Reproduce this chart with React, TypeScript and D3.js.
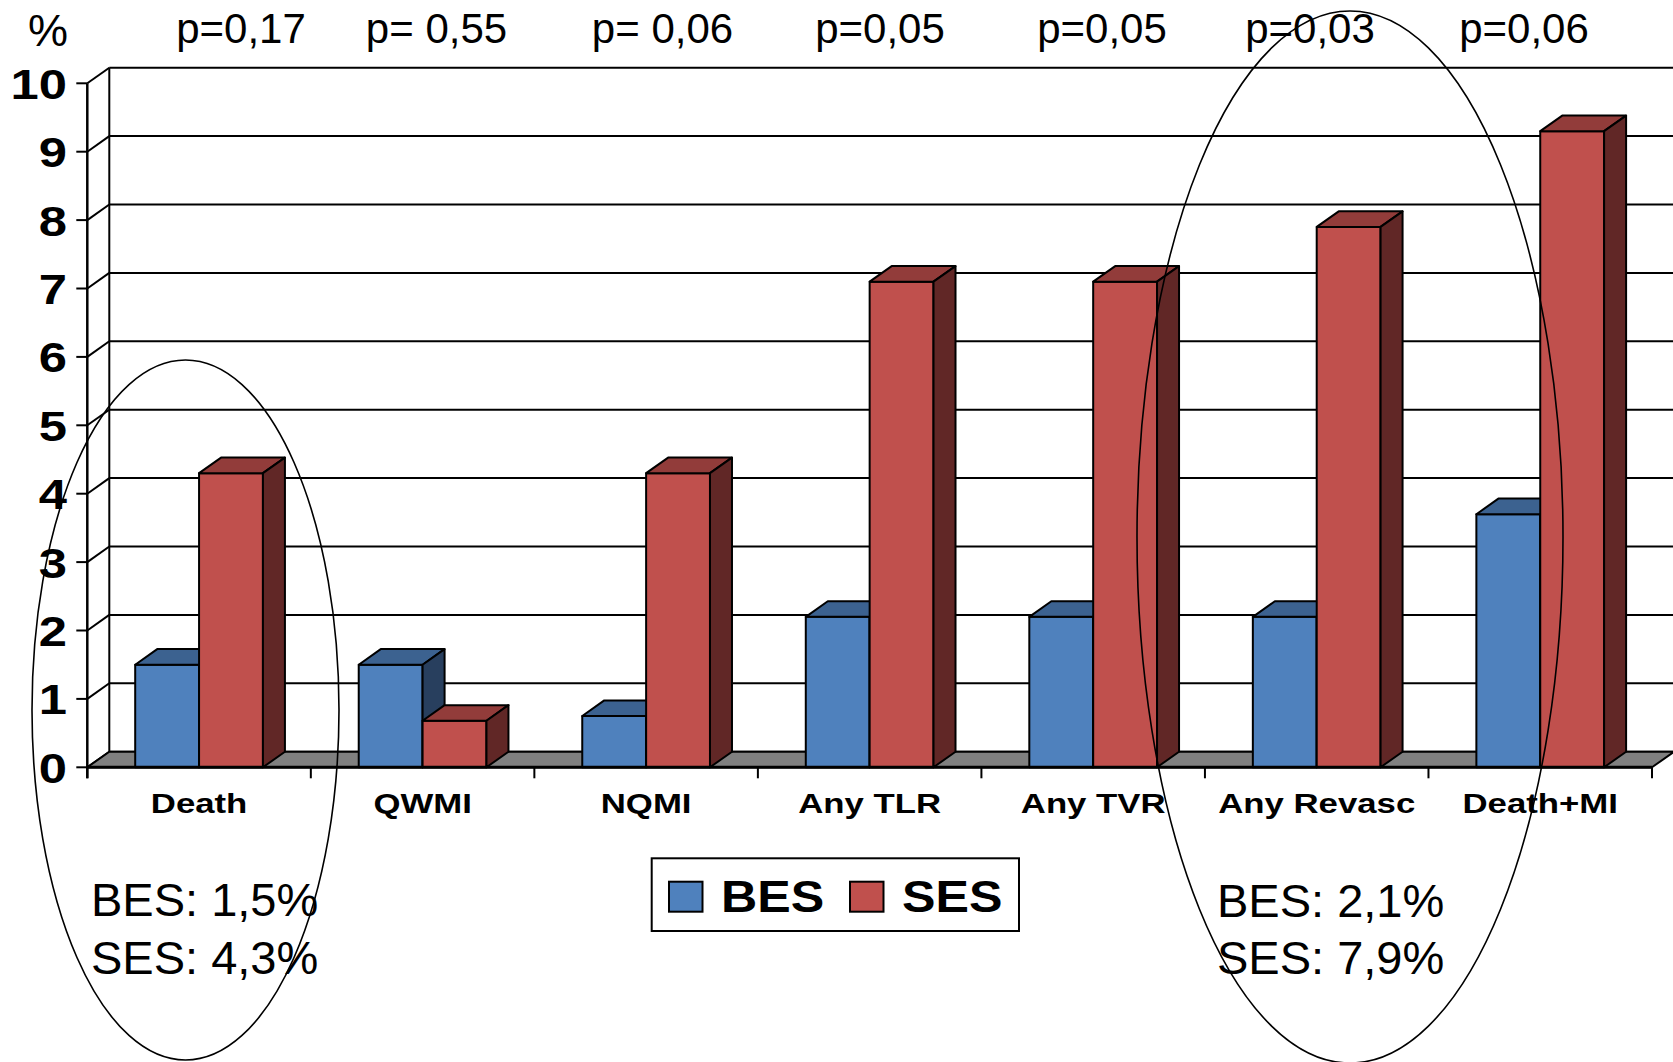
import React, { useEffect } from "react";
import * as d3 from "d3";

// ---- data ----
const categories = ["Death", "QWMI", "NQMI", "Any TLR", "Any TVR", "Any Revasc", "Death+MI"];
const besValues = [1.5, 1.5, 0.75, 2.2, 2.2, 2.2, 3.7];
const sesValues = [4.3, 0.68, 4.3, 7.1, 7.1, 7.9, 9.3];
const seriesNames = ["BES", "SES"];
const yTickValues = [0, 1, 2, 3, 4, 5, 6, 7, 8, 9, 10];
const pValues = ["p=0,17", "p= 0,55", "p= 0,06", "p=0,05", "p=0,05", "p=0,03", "p=0,06"];
const leftNote = ["BES: 1,5%", "SES: 4,3%"];
const rightNote = ["BES: 2,1%", "SES: 7,9%"];

// ---- layout ----
const W = 1673;
const H = 1062;
const X0 = 87.3;
const X1 = 1652;
const Y0 = 767.3;
const Y10 = 83.3;
const DX = 22;
const DY = -15.6;
const pLabelX = [241, 436.5, 662.5, 880, 1102, 1310, 1524];

const colors = {
  BES: { front: "#4F81BD", top: "#3C6290", side: "#283F5E" },
  SES: { front: "#C0504D", top: "#923C3A", side: "#612726" },
};

const BOLD = "'Liberation Sans', Arial, sans-serif";

export default function App() {
  useEffect(() => {
    document.body.style.margin = "0";
  }, []);

  const x = d3.scaleBand<string>().domain(categories).range([X0, X1]).padding(0);
  const y = d3.scaleLinear().domain([0, 10]).range([Y0, Y10]);
  const barW = x.bandwidth() / 3.5;
  const inner = d3.scaleBand<string>().domain(seriesNames).range([0, barW * 2]).padding(0);

  const bars: any[] = [];
  categories.forEach((c, i) => {
    const cx = (x(c) as number) + x.bandwidth() / 2;
    [besValues[i], sesValues[i]].forEach((v, si) => {
      const s = seriesNames[si];
      const bx0 = cx - barW + (inner(s) as number);
      const bx1 = bx0 + barW;
      const yt = y(v);
      const col = (colors as any)[s];
      bars.push(
        <g key={c + s} stroke="#000" strokeWidth={2} strokeLinejoin="round">
          <rect x={bx0} y={yt} width={barW} height={Y0 - yt} fill={col.front} />
          <path
            d={`M${bx0},${yt}L${bx1},${yt}L${bx1 + DX},${yt + DY}L${bx0 + DX},${yt + DY}Z`}
            fill={col.top}
          />
          <path
            d={`M${bx1},${yt}L${bx1 + DX},${yt + DY}L${bx1 + DX},${Y0 + DY}L${bx1},${Y0}Z`}
            fill={col.side}
          />
        </g>
      );
    });
  });

  return (
    <svg width={W} height={H} style={{ display: "block", background: "#fff" }}>
      {/* back wall gridlines */}
      {yTickValues.map((t) => (
        <line key={"g" + t} x1={X0 + DX} x2={W} y1={y(t) + DY} y2={y(t) + DY} stroke="#000" strokeWidth={2} />
      ))}
      <line x1={X0 + DX} x2={X0 + DX} y1={y(10) + DY} y2={Y0 + DY} stroke="#000" strokeWidth={2} />
      {/* left wall */}
      {yTickValues.map((t) => (
        <line key={"d" + t} x1={X0} y1={y(t)} x2={X0 + DX} y2={y(t) + DY} stroke="#000" strokeWidth={2} />
      ))}
      {/* floor */}
      <path
        d={`M${X0},${Y0}L${X1},${Y0}L${X1 + DX},${Y0 + DY}L${X0 + DX},${Y0 + DY}Z`}
        fill="#808080"
        stroke="#000"
        strokeWidth={2}
        strokeLinejoin="round"
      />
      {bars}
      {/* axes */}
      <line x1={X0} x2={X0} y1={y(10)} y2={Y0 + 11} stroke="#000" strokeWidth={2.5} />
      <line x1={X0} x2={X1} y1={Y0} y2={Y0} stroke="#000" strokeWidth={3} />
      {yTickValues.map((t) => (
        <line key={"t" + t} x1={X0 - 11} x2={X0} y1={y(t)} y2={y(t)} stroke="#000" strokeWidth={2} />
      ))}
      {d3.range(categories.length + 1).map((i) => (
        <line
          key={"xt" + i}
          x1={X0 + i * x.bandwidth()}
          x2={X0 + i * x.bandwidth()}
          y1={Y0}
          y2={Y0 + 11}
          stroke="#000"
          strokeWidth={2}
        />
      ))}
      {yTickValues.map((t) => (
        <text
          key={"yl" + t}
          transform={`translate(67,${y(t) + 15.5}) scale(1.18,1)`}
          textAnchor="end"
          fontFamily={BOLD}
          fontWeight="bold"
          fontSize={43}
        >
          {t}
        </text>
      ))}
      {categories.map((c) => (
        <text
          key={"xl" + c}
          transform={`translate(${(x(c) as number) + x.bandwidth() / 2},${813}) scale(1.22,1)`}
          textAnchor="middle"
          fontFamily={BOLD}
          fontWeight="bold"
          fontSize={28.5}
        >
          {c}
        </text>
      ))}
      {/* top labels */}
      <text x={48} y={46} textAnchor="middle" fontFamily={BOLD} fontSize={45}>
        %
      </text>
      {pValues.map((p, i) => (
        <text key={"p" + i} x={pLabelX[i]} y={43} textAnchor="middle" fontFamily={BOLD} fontSize={42}>
          {p}
        </text>
      ))}
      {/* legend */}
      <rect x={651.7} y={858.3} width={367.3} height={72.7} fill="#fff" stroke="#000" strokeWidth={2} />
      {seriesNames.map((s, i) => {
        const lx = i === 0 ? 669 : 850;
        return (
          <g key={"lg" + s}>
            <rect x={lx} y={881.7} width={33.5} height={30} fill={(colors as any)[s].front} stroke="#000" strokeWidth={2} />
            <text
              transform={`translate(${lx + 52},${911.7}) scale(1.14,1)`}
              fontFamily={BOLD}
              fontWeight="bold"
              fontSize={44}
            >
              {s}
            </text>
          </g>
        );
      })}
      {/* notes */}
      {leftNote.map((t, i) => (
        <text key={"ln" + i} x={91} y={916 + i * 57.5} fontFamily={BOLD} fontSize={47}>
          {t}
        </text>
      ))}
      {rightNote.map((t, i) => (
        <text key={"rn" + i} x={1217} y={917 + i * 57} fontFamily={BOLD} fontSize={47}>
          {t}
        </text>
      ))}
      {/* ellipses */}
      <ellipse cx={185.5} cy={710} rx={153.5} ry={350} fill="none" stroke="#000" strokeWidth={1.6} />
      <ellipse cx={1350} cy={537} rx={213} ry={526} fill="none" stroke="#000" strokeWidth={1.6} />
    </svg>
  );
}
